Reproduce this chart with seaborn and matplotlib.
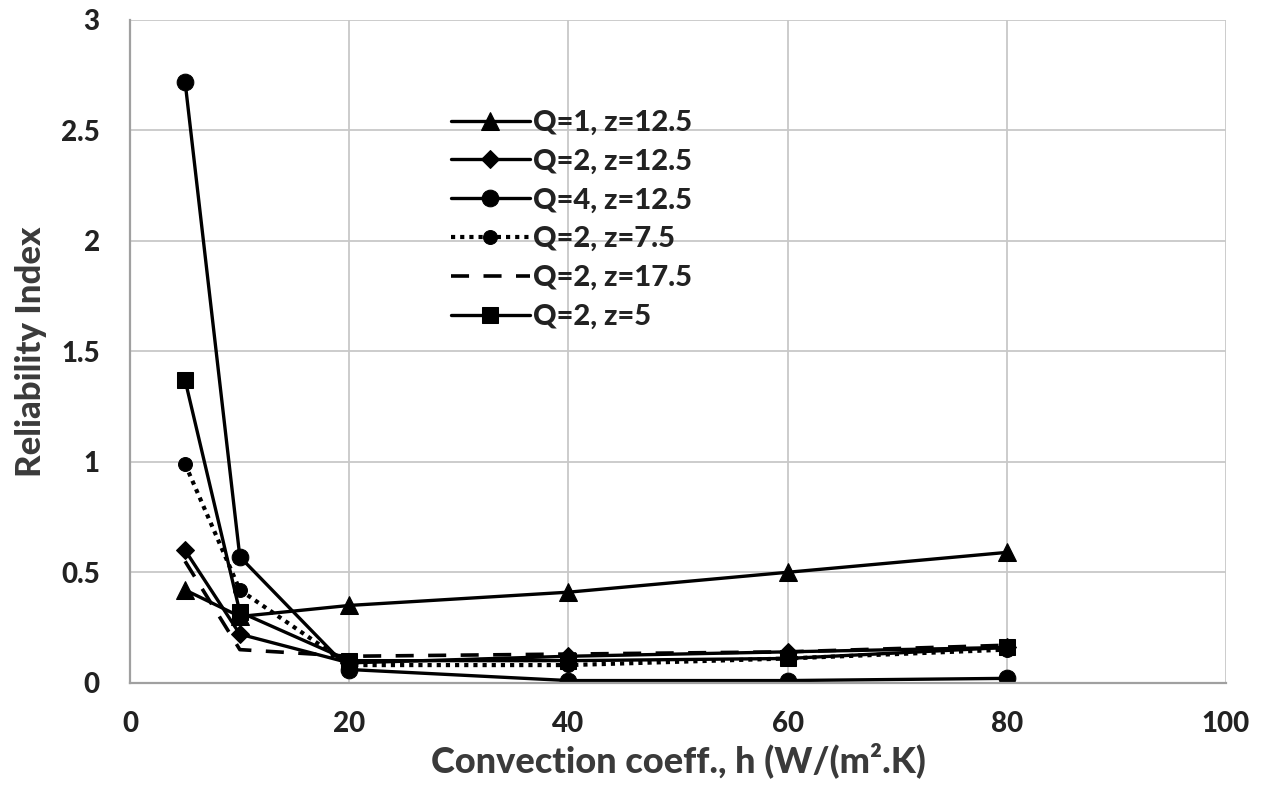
import matplotlib
matplotlib.use("Agg")
import matplotlib.pyplot as plt
import seaborn as sns
import pandas as pd

h_values = [5, 10, 20, 40, 60, 80]
series_labels = ["Q=1, z=12.5", "Q=2, z=12.5", "Q=4, z=12.5",
                 "Q=2, z=7.5", "Q=2, z=17.5", "Q=2, z=5"]
q1_z125 = [0.42, 0.30, 0.35, 0.41, 0.50, 0.59]
q2_z125 = [0.60, 0.22, 0.09, 0.12, 0.14, 0.16]
q4_z125 = [2.72, 0.57, 0.06, 0.01, 0.01, 0.02]
q2_z75 = [0.99, 0.42, 0.08, 0.08, 0.11, 0.15]
q2_z175 = [0.55, 0.15, 0.12, 0.13, 0.14, 0.17]
q2_z5 = [1.37, 0.32, 0.10, 0.10, 0.11, 0.16]
x_ticks = [0, 20, 40, 60, 80, 100]
y_ticks = [0, 0.5, 1, 1.5, 2, 2.5, 3]
y_tick_labels = ["0", "0.5", "1", "1.5", "2", "2.5", "3"]

all_values = [q1_z125, q2_z125, q4_z125, q2_z75, q2_z175, q2_z5]
rows = []
for lab, vals in zip(series_labels, all_values):
    for hx, v in zip(h_values, vals):
        rows.append({"h": hx, "beta": v, "series": lab})
df = pd.DataFrame(rows)

sns.set_theme(style="white")
plt.rcParams['font.family'] = ['Lato', 'DejaVu Sans']
W = "black"

styles = {
    "Q=1, z=12.5": dict(marker="^", linestyle="-", markersize=13, lw=2.4),
    "Q=2, z=12.5": dict(marker="D", linestyle="-", markersize=9, lw=2.4),
    "Q=4, z=12.5": dict(marker="o", linestyle="-", markersize=12, lw=2.4),
    "Q=2, z=7.5": dict(marker="o", linestyle=(0, (1, 1.2)), markersize=10, lw=3.0),
    "Q=2, z=17.5": dict(marker=None, linestyle=(0, (5, 4)), markersize=0, lw=2.6),
    "Q=2, z=5": dict(marker="s", linestyle="-", markersize=11, lw=2.4),
}

fig = plt.figure(figsize=(12.65, 7.93), dpi=100)
ax = fig.add_axes([0.103, 0.139, 0.866, 0.836])

for lab in series_labels:
    st = styles[lab]
    sub = df[df["series"] == lab]
    sns.lineplot(data=sub, x="h", y="beta", ax=ax, color="black",
                 marker=st["marker"], linestyle=st["linestyle"],
                 markersize=st["markersize"], linewidth=st["lw"],
                 markeredgecolor="black", label=lab, estimator=None)

ax.set_xlim(0, 100)
ax.set_ylim(0, 3)
ax.set_xticks(x_ticks)
ax.set_yticks(y_ticks)
ax.set_yticklabels(y_tick_labels)
ax.grid(True, color="#c8c8c8", linewidth=1.3)
for s in ["top", "right"]:
    ax.spines[s].set_visible(False)
for s in ["left", "bottom"]:
    ax.spines[s].set_color("#a0a0a0")
    ax.spines[s].set_linewidth(1.6)

ax.tick_params(axis="both", labelsize=20, colors="#222222", length=0)
ax.tick_params(axis="x", pad=20)
ax.tick_params(axis="y", pad=22)
for t in ax.get_xticklabels() + ax.get_yticklabels():
    t.set_fontweight(W)

ax.set_xlabel("Convection coeff., h (W/(m².K)", fontsize=26,
              fontweight=W, color="#3a3a3a", labelpad=4)
ax.set_ylabel("Reliability Index", fontsize=25, fontweight=W,
              color="#3a3a3a", labelpad=10)

leg = ax.legend(loc="upper left", bbox_to_anchor=(0.282, 0.882), frameon=False,
                prop={"size": 21, "weight": W}, handlelength=2.7,
                handletextpad=0.12, labelspacing=0.44, borderaxespad=0)
for t in leg.get_texts():
    t.set_color("#222222")

fig.savefig("out.png", dpi=100)
